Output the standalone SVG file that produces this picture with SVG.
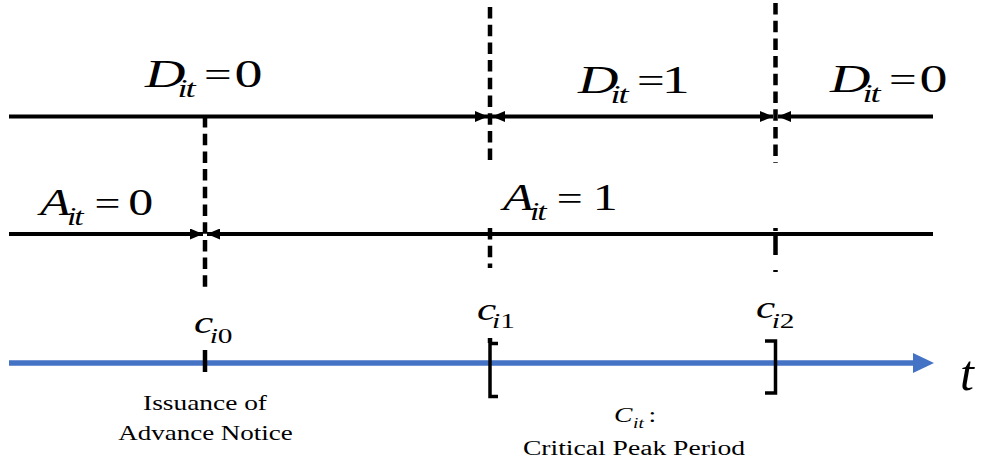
<svg xmlns="http://www.w3.org/2000/svg" width="981" height="463" viewBox="0 0 981 463">
<defs>
<style>
.math{font-family:"Liberation Serif","Times New Roman",serif;font-style:italic;fill:#000}
.up{font-style:normal}
.sub{letter-spacing:-1.5px}
.txt{font-family:"Liberation Serif","Times New Roman",serif;font-size:20px;fill:#000}
.solid{stroke:#000;stroke-width:4;fill:none}
.dash{stroke:#000;stroke-width:4.5;stroke-dasharray:11.5 6.2;fill:none}
.tick{stroke:#000;stroke-width:4.5;fill:none}
.brk{stroke:#000;stroke-width:3.5;fill:none;stroke-linejoin:miter}
.axis{stroke:#4472C4;stroke-width:5.5;fill:none}
</style>
<marker id="ah" markerUnits="userSpaceOnUse" markerWidth="13" markerHeight="11" refX="13" refY="5.5" orient="auto-start-reverse">
<path d="M0,0 L13,5.5 L0,11 Z" fill="#000"/>
</marker>
</defs>
<rect width="981" height="463" fill="#fff"/>

<g id="connectors">
<line class="dash" x1="490" y1="7" x2="490" y2="163"/>
<line class="dash" x1="490" y1="228" x2="490" y2="268"/>
<line class="tick" x1="490" y1="338" x2="490" y2="343"/>
<line class="dash" x1="775.5" y1="3" x2="775.5" y2="163"/>
<line class="dash" x1="775.5" y1="228" x2="775.5" y2="272" style="stroke-dasharray:3 3 21 15"/>
<line class="dash" x1="205" y1="116" x2="205" y2="287"/>
<line class="solid" x1="9" y1="116.5" x2="488" y2="116.5" marker-end="url(#ah)"/>
<line class="solid" x1="492" y1="116.5" x2="773" y2="116.5" marker-start="url(#ah)" marker-end="url(#ah)"/>
<line class="solid" x1="933" y1="116.5" x2="778" y2="116.5" marker-end="url(#ah)"/>
<line class="solid" x1="9" y1="234" x2="203" y2="234" marker-end="url(#ah)"/>
<line class="solid" x1="933" y1="234" x2="207" y2="234" marker-end="url(#ah)"/>
<line class="axis" x1="9" y1="363" x2="915" y2="363"/>
<path d="M913,353 L934,363 L913,373 Z" fill="#4472C4"/>
<line class="tick" x1="205" y1="350" x2="205" y2="372"/>
<path class="brk" d="M498,343.5 H490 V396.5 H498"/>
<path class="brk" d="M765,341 H775.5 V393 H765"/>
</g>

<g id="label-D0-left">
<text class="math" font-size="40" transform="translate(145,87) scale(1.4,1)"><tspan x="0" y="0">D</tspan><tspan class="sub" x="23.2" y="10" font-size="26">it</tspan><tspan class="up" x="42.2" y="0" font-size="35">=</tspan><tspan class="up" x="64" y="0">0</tspan></text>
</g>
<g id="label-D1">
<text class="math" font-size="40" transform="translate(578,93) scale(1.4,1)"><tspan x="0" y="0">D</tspan><tspan class="sub" x="23.2" y="10" font-size="26">it</tspan><tspan class="up" x="42.2" y="0" font-size="35">=</tspan><tspan class="up" x="59.8" y="0">1</tspan></text>
</g>
<g id="label-D0-right">
<text class="math" font-size="40" transform="translate(830,92) scale(1.4,1)"><tspan x="0" y="0">D</tspan><tspan class="sub" x="23.2" y="10" font-size="26">it</tspan><tspan class="up" x="42.2" y="0" font-size="35">=</tspan><tspan class="up" x="64" y="0">0</tspan></text>
</g>
<g id="label-A0">
<text class="math" font-size="37" transform="translate(40,215) scale(1.35,1)"><tspan x="0" y="0">A</tspan><tspan class="sub" x="20" y="10" font-size="25">it</tspan><tspan class="up" x="40.3" y="0" font-size="34">=</tspan><tspan class="up" x="65.4" y="0">0</tspan></text>
</g>
<g id="label-A1">
<text class="math" font-size="37" transform="translate(503,210) scale(1.35,1)"><tspan x="0" y="0">A</tspan><tspan class="sub" x="20" y="10" font-size="25">it</tspan><tspan class="up" x="39.8" y="0" font-size="34">=</tspan><tspan class="up" x="66.5" y="0">1</tspan></text>
</g>
<g id="label-ci0">
<text class="math" font-size="31" transform="translate(194,333) scale(1.4,1)"><tspan x="0" y="0">c</tspan><tspan x="11.2" y="10" font-size="21">i</tspan><tspan class="up" font-size="21">0</tspan></text>
</g>
<g id="label-ci1">
<text class="math" font-size="31" transform="translate(477,320) scale(1.4,1)"><tspan x="0" y="0">c</tspan><tspan x="10.7" y="8" font-size="21">i</tspan><tspan class="up" font-size="21">1</tspan></text>
</g>
<g id="label-ci2">
<text class="math" font-size="31" transform="translate(756,318) scale(1.4,1)"><tspan x="0" y="0">c</tspan><tspan x="11.2" y="10" font-size="21">i</tspan><tspan class="up" font-size="21">2</tspan></text>
</g>
<g id="label-t">
<text class="math" font-size="50" x="960" y="390">t</text>
</g>
<g id="label-notice">
<text class="txt" text-anchor="middle" transform="translate(205,410) scale(1.37,1)">Issuance of</text>
<text class="txt" text-anchor="middle" transform="translate(205.5,440) scale(1.35,1)">Advance Notice</text>
</g>
<g id="label-cpp">
<text class="math" font-size="20" transform="translate(614,422) scale(1.38,1)"><tspan x="0" y="0">C</tspan><tspan x="13.8" y="6" font-size="14">it</tspan><tspan class="up" x="25" y="0">:</tspan></text>
<text class="txt" text-anchor="middle" transform="translate(634,455) scale(1.38,1)">Critical Peak Period</text>
</g>
</svg>
